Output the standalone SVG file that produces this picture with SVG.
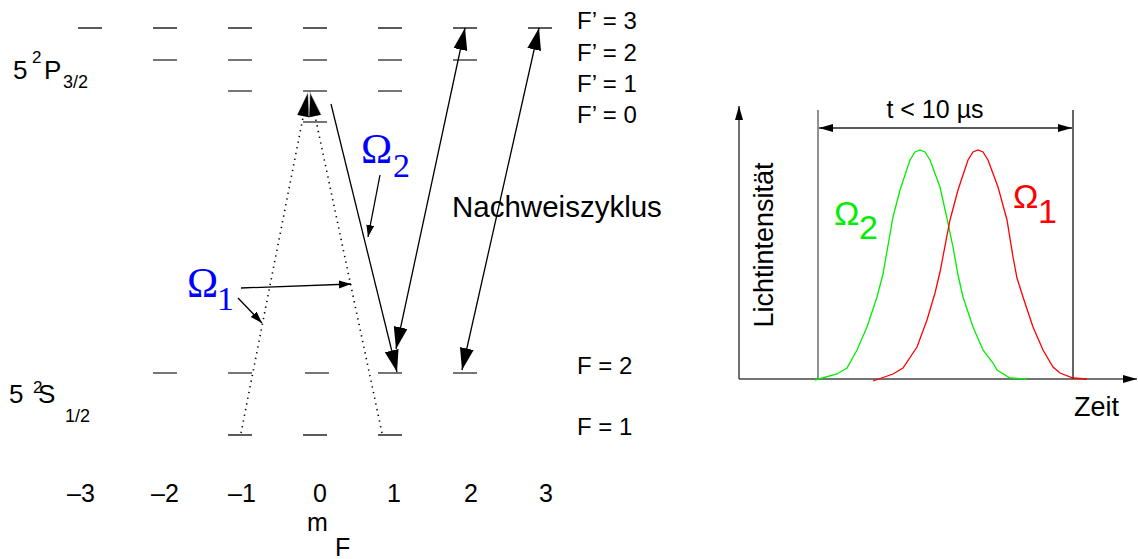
<svg xmlns="http://www.w3.org/2000/svg" width="1138" height="559" viewBox="0 0 1138 559">
<style>
.s{font-family:"Liberation Sans",Arial,sans-serif;fill:#000}
.lv{stroke:#666;stroke-width:1.8}
.lvd{stroke:#333;stroke-width:1.6}
.ln{stroke:#000;stroke-width:1.3;fill:none}
.dot{stroke:#000;stroke-width:1.6;fill:none;stroke-dasharray:1.3 4.5}
.om{font-family:"Liberation Serif","Times New Roman",serif;fill:#0000ff}
</style>
<defs>
<marker id="big" markerUnits="userSpaceOnUse" markerWidth="24" markerHeight="14" refX="22" refY="7" orient="auto-start-reverse" viewBox="0 0 24 14"><path d="M0,0 L22,7 L0,14 z" fill="#000"/></marker>
<marker id="tall" markerUnits="userSpaceOnUse" markerWidth="26" markerHeight="14" refX="25" refY="6.5" orient="auto" viewBox="0 0 26 14"><path d="M0,0 L25,6.5 L0,13 z" fill="#000" stroke="#fff" stroke-width="0.6"/></marker>
<marker id="sm" markerUnits="userSpaceOnUse" markerWidth="14" markerHeight="10" refX="12" refY="4" orient="auto-start-reverse" viewBox="0 0 14 10"><path d="M0,0 L12,4 L0,8 z" fill="#000"/></marker>
<marker id="ax" markerUnits="userSpaceOnUse" markerWidth="16" markerHeight="10" refX="14" refY="4" orient="auto-start-reverse" viewBox="0 0 16 10"><path d="M0,0 L14,4 L0,8 z" fill="#000"/></marker>
</defs>
<rect width="1138" height="559" fill="#fff"/>

<g id="levels-Fp3">
<line class="lvd" x1="78" y1="28" x2="102" y2="28"/>
<line class="lvd" x1="153" y1="28" x2="177" y2="28"/>
<line class="lvd" x1="228" y1="28" x2="252" y2="28"/>
<line class="lvd" x1="303" y1="28" x2="327" y2="28"/>
<line class="lvd" x1="378" y1="28" x2="402" y2="28"/>
<line class="lvd" x1="453" y1="28" x2="477" y2="28"/>
<line class="lvd" x1="528" y1="28" x2="552" y2="28"/>
</g>
<g id="levels-Fp2">
<line class="lv" x1="153" y1="60" x2="177" y2="60"/>
<line class="lv" x1="228" y1="60" x2="252" y2="60"/>
<line class="lv" x1="303" y1="60" x2="327" y2="60"/>
<line class="lv" x1="378" y1="60" x2="402" y2="60"/>
<line class="lv" x1="453" y1="60" x2="477" y2="60"/>
</g>
<g id="levels-Fp1">
<line class="lv" x1="228" y1="91" x2="252" y2="91"/>
<line class="lv" x1="303" y1="91" x2="327" y2="91"/>
<line class="lv" x1="378" y1="91" x2="402" y2="91"/>
</g>
<g id="levels-Fp0">
<line class="lv" x1="303" y1="122" x2="327" y2="122"/>
</g>
<g id="levels-F2">
<line class="lv" x1="153" y1="373" x2="177" y2="373"/>
<line class="lv" x1="228" y1="373" x2="252" y2="373"/>
<line class="lv" x1="305" y1="373" x2="329" y2="373"/>
<line class="lv" x1="378" y1="373" x2="402" y2="373"/>
<line class="lv" x1="453" y1="373" x2="477" y2="373"/>
</g>
<g id="levels-F1">
<line class="lvd" x1="228" y1="435" x2="252" y2="435"/>
<line class="lvd" x1="303" y1="435" x2="327" y2="435"/>
<line class="lvd" x1="378" y1="435" x2="402" y2="435"/>
</g>

<g id="labels-states" class="s">
<text x="13" y="79" font-size="26">5</text>
<text x="32" y="63" font-size="17">2</text>
<text x="44" y="79" font-size="26">P</text>
<text x="63" y="88" font-size="18">3/2</text>
<text x="9" y="403" font-size="26">5</text>
<text x="33" y="393" font-size="17">2</text>
<text x="38" y="403" font-size="26">S</text>
<text x="65" y="422" font-size="18">1/2</text>
</g>
<g id="labels-F" class="s" font-size="24">
<text x="577" y="29">F’ = 3</text>
<text x="577" y="61">F’ = 2</text>
<text x="577" y="92">F’ = 1</text>
<text x="577" y="123">F’ = 0</text>
<text x="577" y="374">F = 2</text>
<text x="577" y="435">F = 1</text>
</g>
<g id="labels-mF" class="s" font-size="25">
<text x="67" y="502">–3</text>
<text x="151" y="502">–2</text>
<text x="228" y="502">–1</text>
<text x="313" y="502">0</text>
<text x="387" y="502">1</text>
<text x="464" y="502">2</text>
<text x="539" y="502">3</text>
<text x="307" y="531">m</text>
<text x="335" y="556">F</text>
</g>
<g id="label-nachweis" class="s">
<text x="452" y="217" font-size="29.5">Nachweiszyklus</text>
</g>
<g id="label-omega2" class="om">
<text x="361" y="163" font-size="42">Ω</text>
<text x="393" y="177" font-size="34">2</text>
</g>
<g id="label-omega1" class="om">
<text x="187" y="297" font-size="42">Ω</text>
<text x="217" y="310" font-size="34">1</text>
</g>

<g id="connectors">
<line class="dot" x1="241" y1="433" x2="308" y2="92" marker-end="url(#tall)"/>
<line class="dot" x1="382" y1="433" x2="310" y2="92" marker-end="url(#tall)"/>
<line class="ln" x1="331" y1="104" x2="397" y2="372" marker-end="url(#big)"/>
<line class="ln" x1="465" y1="28" x2="396" y2="349" marker-start="url(#big)" marker-end="url(#big)"/>
<line class="ln" x1="539" y1="28" x2="462" y2="370" marker-start="url(#big)" marker-end="url(#big)"/>
<line class="ln" x1="380" y1="175" x2="368" y2="237" marker-end="url(#sm)"/>
<line class="ln" x1="241" y1="288" x2="351" y2="284" marker-end="url(#sm)"/>
<line class="ln" x1="238" y1="298" x2="262" y2="323" marker-end="url(#sm)"/>
</g>

<g id="plot">
<line x1="739" y1="379" x2="739" y2="106" stroke="#222" stroke-width="1.3" marker-end="url(#ax)"/>
<line x1="739" y1="379" x2="1137" y2="379" stroke="#444" stroke-width="1.3" marker-end="url(#ax)"/>
<line x1="818" y1="110" x2="818" y2="379" stroke="#555" stroke-width="1.3"/>
<line x1="1073" y1="110" x2="1073" y2="379" stroke="#111" stroke-width="1.3"/>
<line x1="819" y1="128" x2="1072" y2="128" stroke="#222" stroke-width="1.3" marker-start="url(#ax)" marker-end="url(#ax)"/>
<polyline fill="none" stroke="#00ee00" stroke-width="1.3" points="815,380 837,374 847,368 857,350 867,327 877,297 883,274 893,217 900,190 910,160 915,152 920,150 925,152 930,160 940,187 948,223 953,247 958,275 963,297 973,327 983,350 993,363 997,370 1010,378 1027,379"/>
<polyline fill="none" stroke="#ff0000" stroke-width="1.3" points="873,381 893,374 903,368 917,347 927,320 935,293 940,272 950,220 958,190 968,160 973,152 978,150 983,152 988,160 998,187 1007,220 1013,257 1017,278 1023,297 1033,327 1043,350 1053,367 1060,373 1073,378 1087,379"/>
</g>
<g id="plot-labels" class="s">
<text x="935" y="118" font-size="25" text-anchor="middle">t &lt; 10 µs</text>
<text x="1074" y="416" font-size="27">Zeit</text>
<text transform="translate(773,245) rotate(-90)" font-size="27" text-anchor="middle">Lichtintensität</text>
<text x="834" y="225" font-size="34" fill="#00ee00">Ω</text>
<text x="859" y="239" font-size="34" fill="#00ee00">2</text>
<text x="1013" y="208" font-size="34" fill="#ff0000">Ω</text>
<text x="1038" y="223" font-size="34" fill="#ff0000">1</text>
</g>
</svg>
